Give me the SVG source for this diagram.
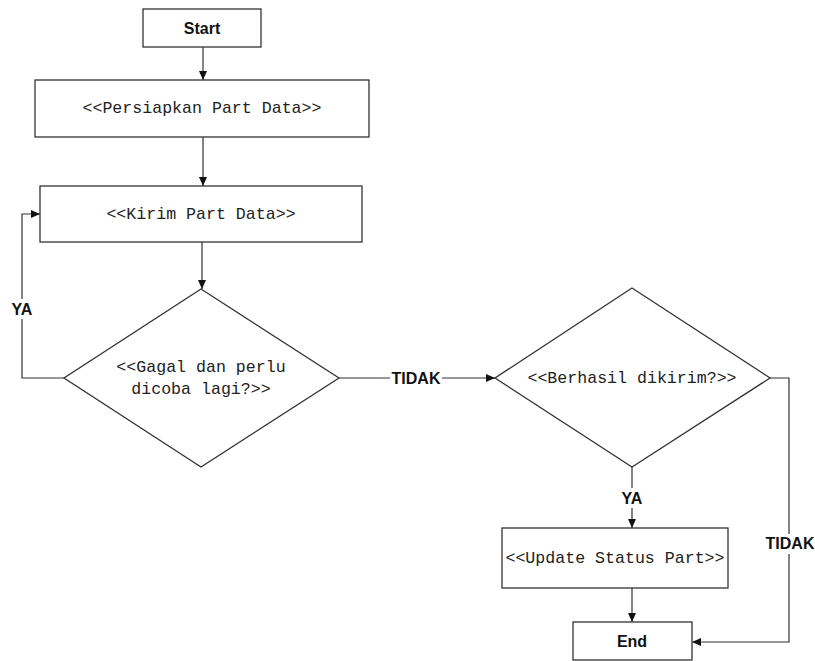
<svg xmlns="http://www.w3.org/2000/svg" width="815" height="661" viewBox="0 0 815 661">
<style>
.box{fill:#fff;stroke:#333;stroke-width:1.3}
.ln{fill:none;stroke:#333;stroke-width:1.2}
.mono{font-family:"Courier New",Courier,"Nimbus Mono PS","Nimbus Mono L",FreeMono,"Liberation Mono",monospace;font-size:16.6px;fill:#222;text-anchor:middle}
.sans{font-family:"Liberation Sans",Arial,sans-serif;font-size:16px;font-weight:bold;fill:#111;text-anchor:middle}
.lbl{font-family:"Liberation Sans",Arial,sans-serif;font-size:16px;font-weight:bold;fill:#111;text-anchor:middle}
.bg{fill:#fff;stroke:none}
</style>
<defs>
<marker id="ah" markerWidth="9" markerHeight="8" refX="9" refY="4" orient="auto" markerUnits="userSpaceOnUse">
<path d="M0,0 L9,4 L0,8 Z" fill="#111"/>
</marker>
</defs>
<rect width="815" height="661" fill="#fff"/>
<g id="connectors">
<path class="ln" d="M203,47 V80" marker-end="url(#ah)"/>
<path class="ln" d="M203,137 V186" marker-end="url(#ah)"/>
<path class="ln" d="M202,242 V289" marker-end="url(#ah)"/>
<path class="ln" d="M64,378 H22 V214 H40" marker-end="url(#ah)"/>
<path class="ln" d="M339,378 H495" marker-end="url(#ah)"/>
<path class="ln" d="M632,467 V528" marker-end="url(#ah)"/>
<path class="ln" d="M632,588 V622" marker-end="url(#ah)"/>
<path class="ln" d="M770,378 H789 V642 H692" marker-end="url(#ah)"/>
<rect class="bg" x="8" y="299" width="28" height="20"/>
<text class="lbl" x="22" y="315">YA</text>
<rect class="bg" x="390" y="369" width="52" height="18"/>
<text class="lbl" x="416" y="384">TIDAK</text>
<rect class="bg" x="618" y="488" width="28" height="20"/>
<text class="lbl" x="632" y="504">YA</text>
<rect class="bg" x="764" y="534" width="51" height="20"/>
<text class="lbl" x="790" y="549">TIDAK</text>
</g>
<g id="start">
<rect class="box" x="143" y="9" width="118" height="38"/>
<text class="sans" x="202" y="34">Start</text>
</g>
<g id="persiapkan">
<rect class="box" x="35" y="80" width="334" height="57"/>
<text class="mono" x="202" y="113">&lt;&lt;Persiapkan Part Data&gt;&gt;</text>
</g>
<g id="kirim">
<rect class="box" x="40" y="186" width="322" height="56"/>
<text class="mono" x="201" y="219">&lt;&lt;Kirim Part Data&gt;&gt;</text>
</g>
<g id="gagal">
<polygon class="box" points="201,289 339,378 201,467 64,378"/>
<text class="mono" x="201" y="372">&lt;&lt;Gagal dan perlu</text>
<text class="mono" x="201" y="394">dicoba lagi?&gt;&gt;</text>
</g>
<g id="berhasil">
<polygon class="box" points="632,288 770,378 632,467 495,378"/>
<text class="mono" x="632" y="383">&lt;&lt;Berhasil dikirim?&gt;&gt;</text>
</g>
<g id="update">
<rect class="box" x="502" y="528" width="226" height="60"/>
<text class="mono" x="615" y="563">&lt;&lt;Update Status Part&gt;&gt;</text>
</g>
<g id="end">
<rect class="box" x="573" y="622" width="119" height="38"/>
<text class="sans" x="632" y="647">End</text>
</g>
</svg>
